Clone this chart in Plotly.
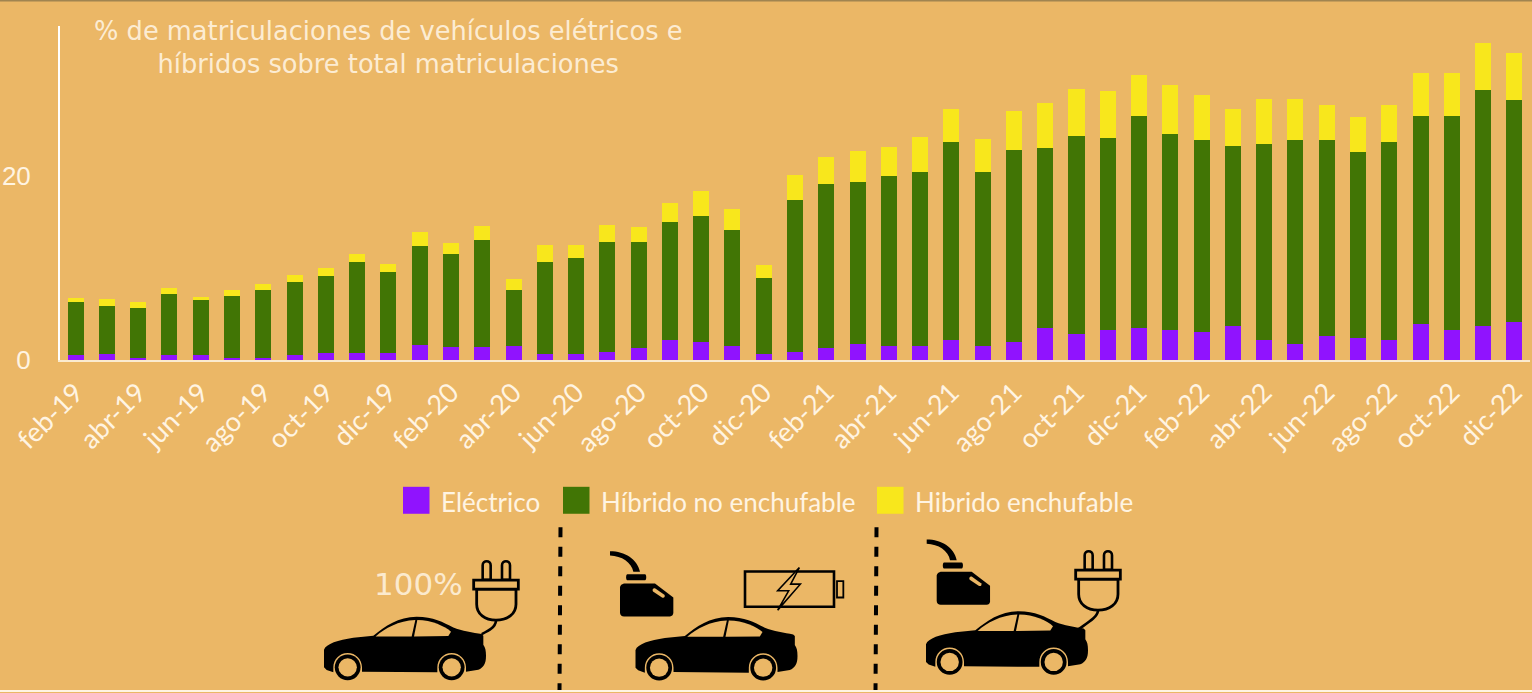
import re
import plotly.graph_objects as go

# ---------- data ----------
months = ["feb-19","mar-19","abr-19","may-19","jun-19","jul-19","ago-19","sep-19","oct-19","nov-19","dic-19",
          "ene-20","feb-20","mar-20","abr-20","may-20","jun-20","jul-20","ago-20","sep-20","oct-20","nov-20","dic-20",
          "ene-21","feb-21","mar-21","abr-21","may-21","jun-21","jul-21","ago-21","sep-21","oct-21","nov-21","dic-21",
          "ene-22","feb-22","mar-22","abr-22","may-22","jun-22","jul-22","ago-22","sep-22","oct-22","nov-22","dic-22"]
electrico = [0.49,0.67,0.27,0.49,0.49,0.27,0.27,0.49,0.71,0.71,0.71,
             1.58,1.36,1.36,1.54,0.67,0.67,0.89,1.33,2.20,1.98,1.54,0.67,
             0.89,1.33,1.76,1.54,1.54,2.20,1.54,1.98,3.50,2.85,3.28,3.50,
             3.28,3.07,3.72,2.20,1.76,2.63,2.41,2.20,3.93,3.28,3.72,4.15]
hibrido_no = [5.84,5.22,5.40,6.71,6.05,6.71,7.36,8.01,8.45,9.97,8.88,
              10.84,10.18,11.71,6.09,10.00,10.43,11.96,11.52,12.83,13.70,12.61,8.26,
              16.52,17.83,17.61,18.48,18.91,21.52,18.91,20.87,19.57,21.52,20.87,23.04,
              21.30,20.87,19.57,21.30,22.17,21.30,20.22,21.52,22.61,23.26,25.65,24.13]
hibrido_en = [0.36,0.79,0.58,0.58,0.36,0.58,0.58,0.79,0.79,0.79,0.79,
              1.45,1.23,1.45,1.20,1.85,1.41,1.85,1.63,2.07,2.72,2.28,1.41,
              2.72,2.93,3.37,3.15,3.80,3.59,3.59,4.24,4.89,5.11,5.11,4.46,
              5.33,4.89,4.02,4.89,4.46,3.80,3.80,4.02,4.67,4.67,5.11,5.11]
tick_labels = months[::2]
series_names = ["Eléctrico", "Híbrido no enchufable", "Hibrido enchufable"]
title_lines = ["% de matriculaciones de vehículos elétricos e", "híbridos sobre total matriculaciones"]

# ---------- style ----------
BG = "#EBB766"
PURPLE, GREEN, YELLOW = "#9013FE", "#417505", "#F8E71C"
CREAM = "#FFF4E2"
W, H = 1532, 693
L, R, T, B = 60, 2, 26, 332.5
PW, PH = W - L - R, H - T - B


def px(x):
    return (x - L) / PW


def py(y):
    return 1 - (y - T) / PH


def path(d, ox=0.0, oy=0.0, k=1 / 3):
    """Decoration outline given in pixel coordinates, converted to paper coordinates."""
    out, is_x = [], True
    for tok in re.findall(r"[A-Za-z]|-?[\d.]+", d):
        if tok.isalpha():
            out.append(tok)
            is_x = True
        else:
            v = float(tok) * k
            out.append(f"{px(ox + v):.5f}" if is_x else f"{py(oy + v):.5f}")
            is_x = not is_x
    return " ".join(out)


shapes = []


def add_path(d, ox, oy, fill="black", line=None, lw=0):
    shapes.append(dict(type="path", xref="paper", yref="paper", path=path(d, ox, oy),
                       fillcolor=fill, line=dict(color=line or "rgba(0,0,0,0)", width=lw), layer="above"))


def add_rect(x0, y0, x1, y1, fill, line=None, lw=0):
    shapes.append(dict(type="rect", xref="paper", yref="paper", x0=px(x0), x1=px(x1), y0=py(y0), y1=py(y1),
                       fillcolor=fill, line=dict(color=line or "rgba(0,0,0,0)", width=lw), layer="above"))


def add_circle(cx, cy, r, fill):
    shapes.append(dict(type="circle", xref="paper", yref="paper", x0=px(cx - r), x1=px(cx + r), y0=py(cy + r), y1=py(cy - r),
                       fillcolor=fill, line=dict(color="rgba(0,0,0,0)", width=0), layer="above"))


BODY = ("M42 512 C48 494 85 483 130 476 L190 470 C225 442 265 413 320 413 C370 413 400 430 430 445 "
        "C455 455 490 460 515 465 L520 470 L520 497 C526 505 528 515 528 530 C528 555 520 566 505 572 L468 578 "
        "L468 565 C468 541 449 522 425 522 C401 522 382 541 382 565 L382 580 L156 578 "
        "L156 565 C156 541 137 522 113 522 C89 522 70 541 70 565 L70 580 "
        "L50 573 L42 565 Z")
WIN1 = "M197 472 C225 448 265 425 316 423 L305 472 Z"
WIN2 = "M322 423 C365 423 405 442 423 458 L415 471 L312 472 Z"


def car(ox, oy):
    add_path(BODY, ox, oy)
    add_path(WIN1, ox, oy, BG)
    add_path(WIN2, ox, oy, BG)
    for zx in (113, 425):
        cx, cy = ox + zx / 3, oy + 565 / 3
        add_circle(cx, cy, 12.9, "black")
        add_circle(cx, cy, 9.2, BG)


def plug(ox, oy):
    for a, b in ((518, 542), (576, 600)):
        add_path(f"M{a} 302 L{a} 258 C{a} 242 {b} 242 {b} 258 L{b} 302 Z", ox, oy, BG, "black", 2.6)
    add_path("M500 330 L500 375 C500 405 525 423 558 423 C592 423 618 405 618 375 L618 330 Z", ox, oy, BG, "black", 2.8)
    add_path("M491 303 L625 303 L625 330 L491 330 Z", ox, oy, BG, "black", 2.8)


def can(ox, oy):
    add_path("M900 216 C945 216 982 240 990 278 L970 278 C965 250 935 230 900 229 Z", ox, oy)
    add_path("M952 285 L1005 285 C1010 285 1010 303 1005 303 L952 303 C947 303 947 285 952 285 Z", ox, oy)
    add_path("M945 313 L1035 313 L1090 355 L1090 402 C1090 408 1085 412 1080 412 L942 412 C935 412 930 408 930 400 "
             "L930 325 C930 318 938 313 945 313 Z", ox, oy)
    add_path("M1036 328 L1063 347 C1067 352 1062 358 1056 355 L1029 337 C1025 331 1031 325 1036 328 Z", ox, oy, BG)


# Icons
car(310, 480)
plug(310, 480)
add_path("M558 425 C556 445 535 455 515 465", 310, 480, "rgba(0,0,0,0)", "black", 2.6)
car(621.5, 480.3)
can(310, 480)
add_path("M435 97 L702 97 L702 203 L435 203 Z", 600, 540, "rgba(0,0,0,0)", "black", 2.6)
add_path("M711 126 L730 126 L730 175 L711 175 Z", 600, 540, "rgba(0,0,0,0)", "black", 1.8)
add_path("M598 85 L533 155 L566 155 L533 213 L601 135 L572 135 Z", 600, 540, BG, "black", 1.6)
car(912, 474.5)
plug(912, 470)
add_path("M558 425 C556 445 525 462 500 480", 912, 470, "rgba(0,0,0,0)", "black", 2.6)
can(626.7, 468.3)

# dashed separators
for xtop, xbot in ((560.5, 559.5), (876.5, 875.5)):
    shapes.append(dict(type="line", xref="paper", yref="paper", x0=px(xtop), x1=px(xbot), y0=py(528), y1=py(693),
                       line=dict(color="black", width=4, dash="10px,9.5px"), layer="above"))

# frame lines
add_rect(0, 0, W, 1.5, "#A08450")
add_rect(0, 691, W, 693, CREAM)

# legend
legend_swatch_x = [403, 563, 877]
legend_text_x = [438.5, 598.5, 913]
annotations = []
for sx, tx, name, col in zip(legend_swatch_x, legend_text_x, series_names, [PURPLE, GREEN, YELLOW]):
    add_rect(sx, 487.5, sx + 26.5, 514.5, col)
    annotations.append(dict(xref="paper", yref="paper", x=px(tx), y=py(503), text=name, showarrow=False,
                            xanchor="left", yanchor="middle", font=dict(family="Lato", size=26, color=CREAM)))

# title & label
annotations.append(dict(xref="paper", yref="paper", x=px(388), y=py(48), text="<br>".join(title_lines), showarrow=False,
                        xanchor="center", yanchor="middle", align="center",
                        font=dict(family="DejaVu Sans", size=25.7, color="rgba(255,244,226,0.9)")))
annotations.append(dict(xref="paper", yref="paper", x=px(418.5), y=py(585), text="100%", showarrow=False,
                        xanchor="center", yanchor="middle", font=dict(family="DejaVu Sans", size=31, color="rgba(255,244,226,0.85)")))

fig = go.Figure()
for name, vals, col in zip(series_names, [electrico, hibrido_no, hibrido_en], [PURPLE, GREEN, YELLOW]):
    fig.add_trace(go.Bar(x=months, y=vals, name=name, marker=dict(color=col, line=dict(width=0)), showlegend=False))

fig.update_layout(
    width=W, height=H, barmode="stack", bargap=0.488,
    margin=dict(l=L, r=R, t=T, b=B, pad=0, autoexpand=False),
    paper_bgcolor=BG, plot_bgcolor=BG, showlegend=False,
    shapes=shapes, annotations=annotations,
    xaxis=dict(type="category", categoryorder="array", categoryarray=months,
               tickmode="array", tickvals=tick_labels, ticktext=tick_labels,
               tickangle=-45, tickfont=dict(family="Lato", size=27, color=CREAM),
               showgrid=False, zeroline=False, showline=True, linecolor="#FBEBCF", linewidth=2, ticks="",
               ticklabelstandoff=4, layer="above traces"),
    yaxis=dict(range=[0, 36.3], tickmode="array", tickvals=[0, 20], ticktext=["0", "20"],
               tickfont=dict(family="Liberation Sans", size=26, color=CREAM),
               showgrid=False, zeroline=False, showline=True, linecolor="#FFFFFF", linewidth=2, ticks="",
               ticklabelstandoff=22, layer="above traces"),
)

fig.write_html("out.html", config=dict(displayModeBar=False),
               post_script="document.body.style.margin='0';document.body.style.overflow='hidden';document.body.style.background='" + BG + "';")
